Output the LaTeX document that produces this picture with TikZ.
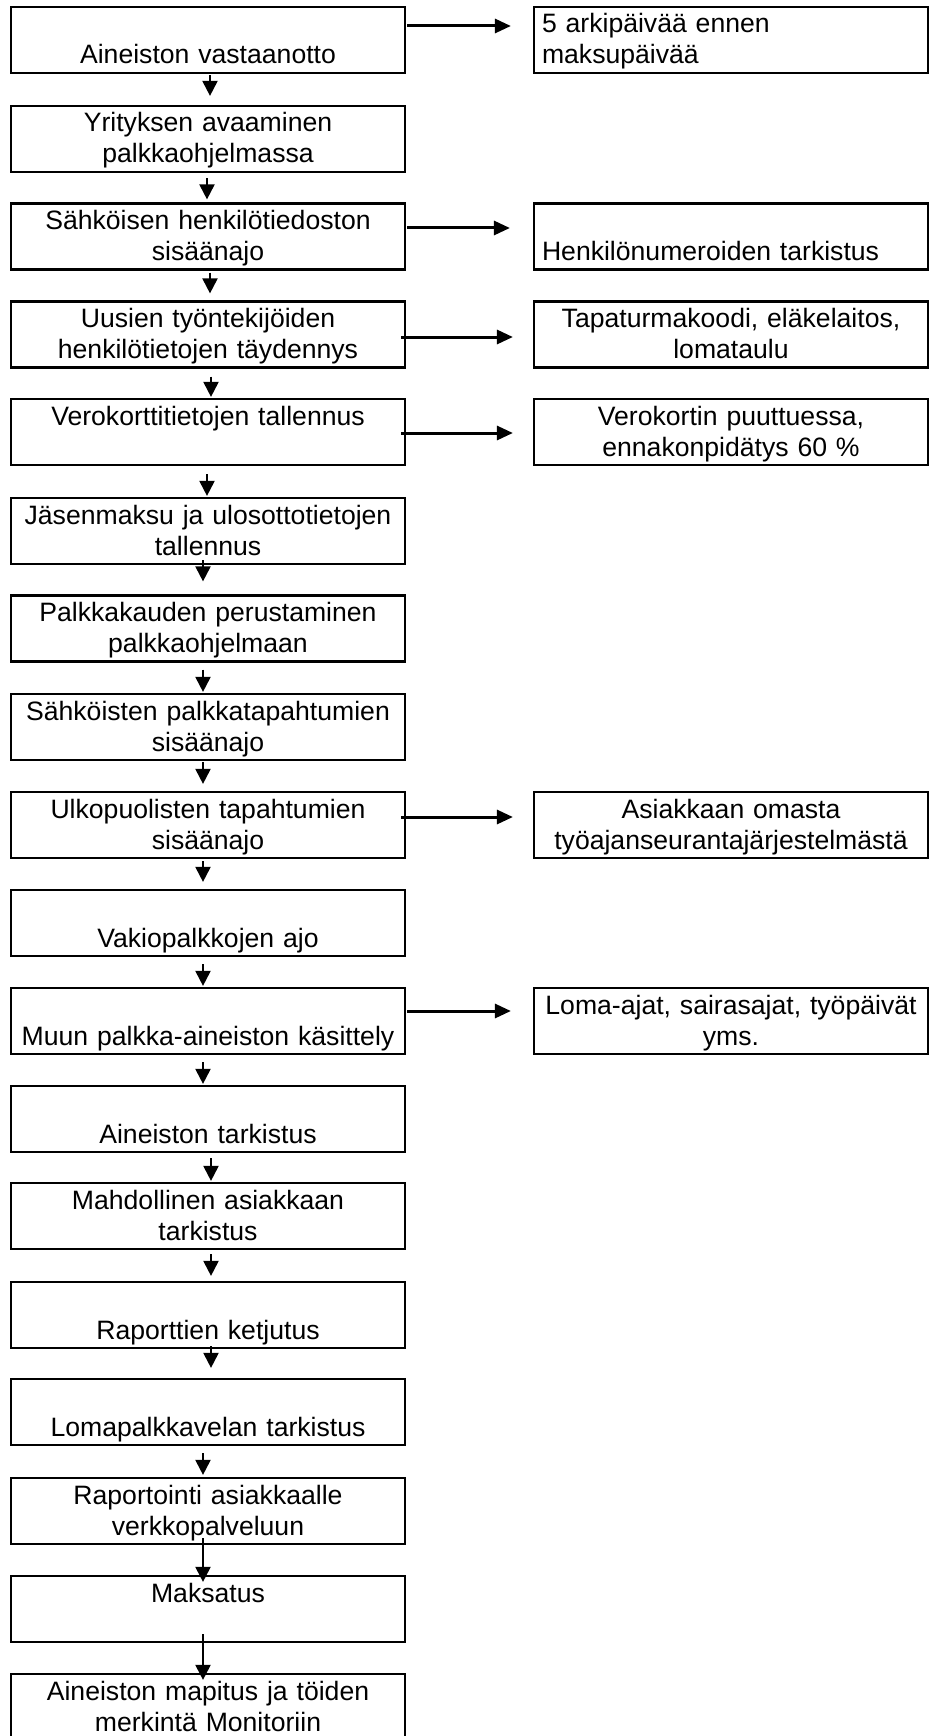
\documentclass[tikz,border=0pt]{standalone}
\usepackage{fontspec}
\setmainfont{Liberation Sans}
\usetikzlibrary{arrows.meta}
\newcommand{\rowstrut}{\rule[-6.5pt]{0pt}{30pt}}
\newcommand{\tworows}[2]{\rowstrut#1\\\rowstrut#2}

\begin{document}
\begin{tikzpicture}[x=1pt, y=-1pt,
    stepbox/.style={draw, line width=2.2pt, minimum width=394pt, minimum height=66pt,
        text width=390pt, inner xsep=2pt, inner ysep=0pt, align=center,
        font=\fontsize{26.6}{31}\selectfont},
    leftnote/.style={stepbox, text width=378pt, inner xsep=8pt, align=left},
    down/.style={-{Triangle[width=15pt,length=15pt]}, line width=2pt},
    side/.style={-{Triangle[width=14pt,length=16pt]}, line width=3pt}]
    \useasboundingbox (0,0) rectangle (929,1736);
    \clip (0,0) rectangle (929,1736);
    % Vaiheet
    \node[stepbox] (b1) at (208,40) {\tworows{}{Aineiston vastaanotto}};
    \node[stepbox] (b2) at (208,139) {\tworows{Yrityksen avaaminen}{palkkaohjelmassa}};
    \node[stepbox] (b3) at (208,236.5) {\tworows{Sähköisen henkilötiedoston}{sisäänajo}};
    \node[stepbox] (b4) at (208,334.5) {\tworows{Uusien työntekijöiden}{henkilötietojen täydennys}};
    \node[stepbox] (b5) at (208,432) {\tworows{Verokorttitietojen tallennus}{}};
    \node[stepbox] (b6) at (208,531) {\tworows{Jäsenmaksu ja ulosottotietojen}{tallennus}};
    \node[stepbox] (b7) at (208,628.5) {\tworows{Palkkakauden perustaminen}{palkkaohjelmaan}};
    \node[stepbox] (b8) at (208,727) {\tworows{Sähköisten palkkatapahtumien}{sisäänajo}};
    \node[stepbox] (b9) at (208,825) {\tworows{Ulkopuolisten tapahtumien}{sisäänajo}};
    \node[stepbox] (b10) at (208,923) {\tworows{}{Vakiopalkkojen ajo}};
    \node[stepbox] (b11) at (208,1021) {\tworows{}{Muun palkka-aineiston käsittely}};
    \node[stepbox] (b12) at (208,1119) {\tworows{}{Aineiston tarkistus}};
    \node[stepbox] (b13) at (208,1216) {\tworows{Mahdollinen asiakkaan}{tarkistus}};
    \node[stepbox] (b14) at (208,1315) {\tworows{}{Raporttien ketjutus}};
    \node[stepbox] (b15) at (208,1412) {\tworows{}{Lomapalkkavelan tarkistus}};
    \node[stepbox] (b16) at (208,1511) {\tworows{Raportointi asiakkaalle}{verkkopalveluun}};
    \node[stepbox] (b17) at (208,1609) {\tworows{Maksatus}{}};
    \node[stepbox] (b18) at (208,1707) {\tworows{Aineiston mapitus ja töiden}{merkintä Monitoriin}};
    % Lisätiedot
    \node[leftnote] (r1) at (731,40) {\tworows{5 arkipäivää ennen}{maksupäivää}};
    \node[leftnote] (r3) at (731,236.5) {\tworows{}{Henkilönumeroiden tarkistus}};
    \node[stepbox] (r4) at (731,334.5) {\tworows{Tapaturmakoodi, eläkelaitos,}{lomataulu}};
    \node[stepbox] (r5) at (731,432) {\tworows{Verokortin puuttuessa,}{ennakonpidätys 60 \%}};
    \node[stepbox] (r9) at (731,825) {\tworows{Asiakkaan omasta}{työajanseurantajärjestelmästä}};
    \node[stepbox] (r11) at (731,1021) {\tworows{Loma-ajat, sairasajat, työpäivät}{yms.}};
    % Nuolet alas
    \draw[down, shorten <=1pt, shorten >=9pt] ([xshift=2pt]b1.south) -- ([xshift=2pt]b2.north);
    \draw[down, shorten <=5pt, shorten >=3pt] ([xshift=-1pt]b2.south) -- ([xshift=-1pt]b3.north);
    \draw[down, shorten <=2pt, shorten >=7pt] ([xshift=2pt]b3.south) -- ([xshift=2pt]b4.north);
    \draw[down, shorten <=8pt, shorten >=1pt] ([xshift=3pt]b4.south) -- ([xshift=3pt]b5.north);
    \draw[down, shorten <=8pt, shorten >=1pt] ([xshift=-1pt]b5.south) -- ([xshift=-1pt]b6.north);
    \draw[down, shorten <=-5pt, shorten >=13pt] ([xshift=-5pt]b6.south) -- ([xshift=-5pt]b7.north);
    \draw[down, shorten <=7pt, shorten >=1pt] ([xshift=-5pt]b7.south) -- ([xshift=-5pt]b8.north);
    \draw[down, shorten <=1pt, shorten >=7pt] ([xshift=-5pt]b8.south) -- ([xshift=-5pt]b9.north);
    \draw[down, shorten <=2pt, shorten >=7pt] ([xshift=-5pt]b9.south) -- ([xshift=-5pt]b10.north);
    \draw[down, shorten <=7pt, shorten >=1pt] ([xshift=-5pt]b10.south) -- ([xshift=-5pt]b11.north);
    \draw[down, shorten <=7pt, shorten >=1pt] ([xshift=-5pt]b11.south) -- ([xshift=-5pt]b12.north);
    \draw[down, shorten <=5pt, shorten >=1pt] ([xshift=3pt]b12.south) -- ([xshift=3pt]b13.north);
    \draw[down, shorten <=4pt, shorten >=5pt] ([xshift=3pt]b13.south) -- ([xshift=3pt]b14.north);
    \draw[down, shorten <=-3pt, shorten >=10pt] ([xshift=3pt]b14.south) -- ([xshift=3pt]b15.north);
    \draw[down, shorten <=7pt, shorten >=2pt] ([xshift=-5pt]b15.south) -- ([xshift=-5pt]b16.north);
    \draw[down, shorten <=-7pt, shorten >=-7pt] ([xshift=-5pt]b16.south) -- ([xshift=-5pt]b17.north);
    \draw[down, shorten <=-9pt, shorten >=-7pt] ([xshift=-5pt]b17.south) -- ([xshift=-5pt]b18.north);
    % Nuolet sivulle
    \draw[side, shorten <=1pt, shorten >=22pt] ([yshift=14pt]b1.east) -- ([yshift=14pt]r1.west);
    \draw[side, shorten <=1pt, shorten >=23pt] ([yshift=8.5pt]b3.east) -- ([yshift=8.5pt]r3.west);
    \draw[side, shorten <=-5pt, shorten >=20pt] ([yshift=-2.5pt]b4.east) -- ([yshift=-2.5pt]r4.west);
    \draw[side, shorten <=-5pt, shorten >=20pt] ([yshift=-1pt]b5.east) -- ([yshift=-1pt]r5.west);
    \draw[side, shorten <=-5pt, shorten >=20pt] ([yshift=8pt]b9.east) -- ([yshift=8pt]r9.west);
    \draw[side, shorten <=1pt, shorten >=22pt] ([yshift=10pt]b11.east) -- ([yshift=10pt]r11.west);
\end{tikzpicture}
\end{document}
